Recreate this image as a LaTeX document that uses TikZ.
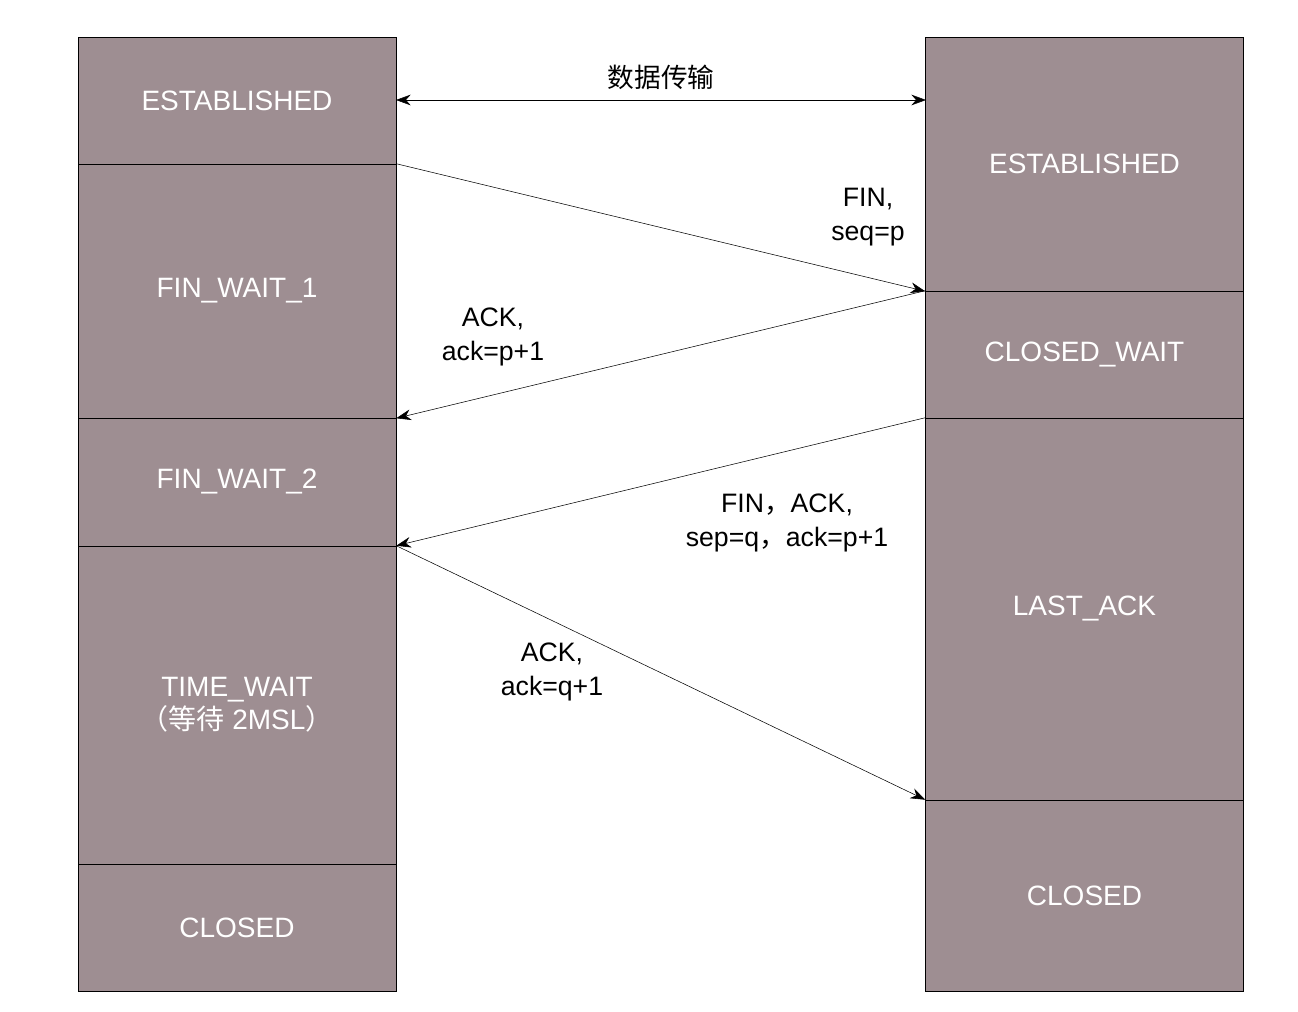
\documentclass[tikz,border=0pt]{standalone}
\usepackage{fontspec}
\setmainfont{Liberation Sans}
\newfontfamily\cjk{Noto Sans CJK SC}
\usetikzlibrary{arrows.meta}
\definecolor{statefill}{RGB}{158,142,146}
\begin{document}
\begin{tikzpicture}[x=0.75pt,y=-0.75pt,
  box/.style = {draw, fill=statefill, text=white, minimum width=238.5pt, inner sep=0pt, font=\fontsize{21}{25}\selectfont, align=center},
  msg/.style = {-{Stealth[length=11pt,width=8pt]}, thin},
  lab/.style = {font=\fontsize{20}{25}\selectfont, align=center}]
\useasboundingbox (0,0) rectangle (1298,1012);

% client side
\node[box, minimum height=95.25pt] (Lest) at (237,100.5) {ESTABLISHED};
\node[box, minimum height=190.5pt] (Lfw1) at (237,291) {FIN\_WAIT\_1};
\node[box, minimum height=96pt] (Lfw2) at (237,482) {FIN\_WAIT\_2};
\node[box, minimum height=238.5pt] (Ltw) at (237,705) {TIME\_WAIT\\{\cjk （等待} 2MSL{\cjk ）}};
\node[box, minimum height=95.25pt] (Lcl) at (237,927.5) {CLOSED};

% server side
\node[box, minimum height=190.5pt] (Rest) at (1084.5,164) {ESTABLISHED};
\node[box, minimum height=95.25pt] (Rcw) at (1084.5,354.5) {CLOSED\_WAIT};
\node[box, minimum height=286.5pt] (Rla) at (1084.5,609) {LAST\_ACK};
\node[box, minimum height=143.25pt] (Rcl) at (1084.5,895.5) {CLOSED};

% messages
\coordinate (Ldata) at (396,100);
\coordinate (Rdata) at (926,100);
\draw[{Stealth[length=11pt,width=8pt]}-{Stealth[length=11pt,width=8pt]}, thin] (Ldata) -- (Rdata)
  node[midway, above=4pt, lab] {\cjk 数据传输};
\draw[msg] (Lfw1.north east) -- (Rest.south west);
\draw[msg] (Rcw.north west) -- (Lfw1.south east);
\draw[msg] (Rla.north west) -- (Ltw.north east);
\draw[msg] (Ltw.north east) -- (Rcl.north west);

\node[lab] (m1) at (868,217) {FIN,\\seq=p};
\node[lab] (m2) at (493,337) {ACK,\\ack=p+1};
\node[lab] (m3) at (787,523) {FIN{\cjk ，}ACK,\\sep=q{\cjk ，}ack=p+1};
\node[lab] (m4) at (552,672) {ACK,\\ack=q+1};
\end{tikzpicture}
\end{document}
